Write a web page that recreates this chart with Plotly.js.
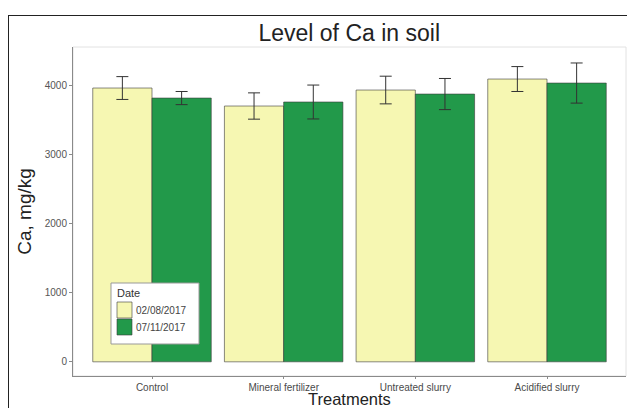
<!DOCTYPE html>
<html>
<head>
<meta charset="utf-8">
<script src="https://cdn.plot.ly/plotly-3.0.1.min.js"></script>
<style>
  html, body { margin: 0; padding: 0; background: #fff; }
  #wrap { position: relative; width: 627px; height: 408px; overflow: hidden; }
  #chart { position: absolute; left: 0; top: 0; width: 627px; height: 408px; }
  #frame { position: absolute; left: 8px; top: 15px; width: 700px; height: 500px; border: 1.5px solid #222; pointer-events: none; }
</style>
</head>
<body>
<div id="wrap">
  <div id="chart"></div>
  <div id="frame"></div>
</div>
<script>
const categories = ["Control", "Mineral fertilizer", "Untreated slurry", "Acidified slurry"];
const seriesNames = ["02/08/2017", "07/11/2017"];
const valuesDate1 = [3957, 3697, 3928, 4087];
const errorsDate1 = [165, 190, 200, 180];
const valuesDate2 = [3812, 3755, 3870, 4029];
const errorsDate2 = [95, 245, 225, 290];
const yTicks = [0, 1000, 2000, 3000, 4000];
const legendTitle = "Date";
const xTitle = "Treatments";

const colors = ["#F6F7B2", "#22994A"];

function makeTrace(name, vals, errs, color) {
  return {
    type: "bar",
    name: name,
    x: categories,
    y: vals,
    marker: { color: color, line: { color: "#3a3a3a", width: 0.6 } },
    error_y: { type: "data", array: errs, visible: true, color: "#333", thickness: 1, width: 6 }
  };
}

const data = [
  makeTrace(seriesNames[0], valuesDate1, errorsDate1, colors[0]),
  makeTrace(seriesNames[1], valuesDate2, errorsDate2, colors[1])
];

// Panel: x 73..626 px, y 47..376 px  -> convert legend px positions to paper coords
const PL = 73, PR = 626, PT = 47, PB = 376;
const px = v => (v - PL) / (PR - PL);
const py = v => (PB - v) / (PB - PT);

const shapes = [
  { type: "rect", xref: "paper", yref: "paper", x0: 0, x1: 1, y0: 0, y1: 1, line: { color: "#e2e2e2", width: 1 }, layer: "below" },
  // legend box
  { type: "rect", xref: "paper", yref: "paper", x0: px(111), x1: px(199), y0: py(344), y1: py(283), fillcolor: "#fff", line: { color: "#999", width: 1 }, layer: "above" }
];
const annotations = [
  { xref: "paper", yref: "paper", x: px(115), y: py(293), xanchor: "left", yanchor: "middle", text: legendTitle, showarrow: false, font: { size: 11, color: "#333" } },
  { xref: "paper", yref: "paper", x: 0.5, y: py(398.5), xanchor: "center", yanchor: "middle", text: xTitle, showarrow: false, font: { size: 16.5, color: "#222" } }
];
seriesNames.forEach((name, i) => {
  const top = 302 + i * 17;
  shapes.push({ type: "rect", xref: "paper", yref: "paper", x0: px(117), x1: px(132), y0: py(top + 16), y1: py(top), fillcolor: colors[i], line: { color: "#3a3a3a", width: 0.6 }, layer: "above" });
  annotations.push({ xref: "paper", yref: "paper", x: px(134), y: py(top + 8), xanchor: "left", yanchor: "middle", text: name, showarrow: false, font: { size: 10, color: "#444" } });
});

const layout = {
  width: 627, height: 408,
  margin: { l: 73, r: 1, t: 47, b: 32, pad: 0 },
  paper_bgcolor: "rgba(0,0,0,0)",
  plot_bgcolor: "#fff",
  font: { family: "Liberation Sans, Arial, sans-serif", color: "#222" },
  title: { text: "Level of Ca in soil", x: 0.557, xanchor: "center", y: 0.92, yanchor: "middle", font: { size: 23, color: "#222" } },
  barmode: "group",
  bargap: 0.1,
  bargroupgap: 0,
  showlegend: false,
  xaxis: {
    type: "category",
    range: [-0.6, 3.6],
    showline: true, linecolor: "#8a8a8a", linewidth: 1,
    ticks: "outside", ticklen: 2, tickcolor: "#8a8a8a",
    tickfont: { size: 10, color: "#4a4a4a" },
    showgrid: false, zeroline: false
  },
  yaxis: {
    range: [-205, 4550],
    tickvals: yTicks,
    ticktext: yTicks.map(String),
    showline: true, linecolor: "#8a8a8a", linewidth: 1,
    ticks: "outside", ticklen: 3, tickcolor: "#8a8a8a",
    tickfont: { size: 10, color: "#555" },
    showgrid: false, zeroline: false,
    title: { text: "Ca, mg/kg", font: { size: 19, color: "#222" }, standoff: 8 }
  },
  shapes: shapes,
  annotations: annotations
};

Plotly.newPlot("chart", data, layout, { displayModeBar: false, staticPlot: true });
</script>
</body>
</html>
